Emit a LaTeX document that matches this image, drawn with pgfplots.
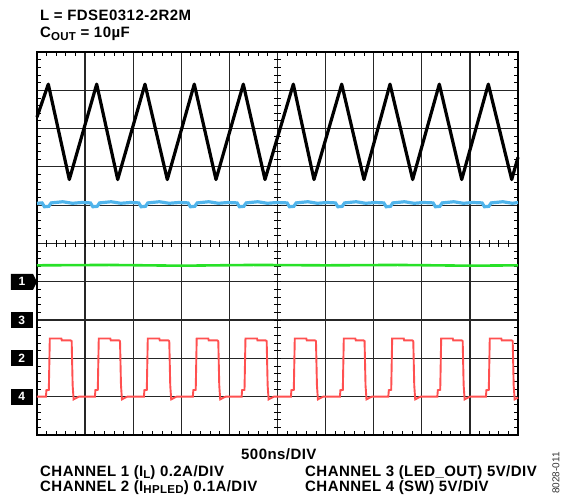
\documentclass[border=0pt]{standalone}
\usepackage{fontspec}
\setmainfont{Liberation Sans}
\newfontfamily\lsfont[LetterSpace=3]{Liberation Sans}
\usepackage{pgfplots}
\pgfplotsset{compat=1.18}

\definecolor{trblue}{RGB}{80,180,235}
\definecolor{trgreen}{RGB}{40,225,40}
\definecolor{trred}{RGB}{255,80,80}

\newcommand{\bigtxt}{\lsfont\bfseries\fontsize{15bp}{17bp}\selectfont}
\newcommand{\sub}[1]{\raisebox{-0.35ex}{\fontsize{11.5bp}{12bp}\selectfont #1}}
\tikzset{chbox/.style={fill=black, text=white, font=\bfseries\fontsize{12bp}{12bp}\selectfont,
        minimum width=22bp, minimum height=16bp, inner sep=0pt, anchor=east, xshift=-4bp}}

\begin{document}
\begin{tikzpicture}
\useasboundingbox (-37bp,-62bp) rectangle (528bp,435bp);
\begin{axis}[
    scale only axis,
    width=481bp, height=383bp,
    xmin=0, xmax=10, ymin=0, ymax=10,
    xtick={0,...,10}, ytick={0,...,10},
    xticklabels={}, yticklabels={},
    minor x tick num=4, minor y tick num=4,
    tick pos=both, tick align=inside,
    major tick length=0pt, minor tick length=4bp,
    minor tick style={black, line width=0.9bp},
    grid=major,
    major grid style={black!85, line width=1.2bp},
    axis line style={line width=2bp},
    clip=false,
]
% center graticule ticks
\pgfplotsinvokeforeach{0.2,0.4,...,9.81}{
  \draw[line width=0.9bp] (axis cs:#1,5) ++(0,-3.5bp) -- ++(0,7bp);
  \draw[line width=0.9bp] (axis cs:5,#1) ++(-3.5bp,0) -- ++(7bp,0);
}

% channel 1: inductor current
\addplot[black, line width=3.2bp, line join=round] coordinates {
(0,8.3) (0.235,9.16) (0.672,6.67) (1.241,9.16) (1.678,6.67) (2.245,9.16)
(2.709,6.67) (3.27,9.16) (3.721,6.67) (4.289,9.16) (4.74,6.67) (5.329,9.16)
(5.759,6.67) (6.335,9.16) (6.798,6.67) (7.339,9.16) (7.81,6.67) (8.364,9.16)
(8.83,6.67) (9.383,9.16) (9.869,6.67) (10,7.25)
};

% channel 2: LED current
\addplot[trblue, line width=3.2bp] coordinates {
(0,6.05)
(0.105,6.06) (0.155,5.96) (0.245,5.97) (0.295,6.06) (0.535,6.09) (0.735,6.05) (0.935,6.07)
(1.111,6.06) (1.161,5.96) (1.251,5.97) (1.301,6.06) (1.541,6.09) (1.741,6.05) (1.941,6.07)
(2.115,6.06) (2.165,5.96) (2.255,5.97) (2.305,6.06) (2.545,6.09) (2.745,6.05) (2.945,6.07)
(3.14,6.06) (3.19,5.96) (3.28,5.97) (3.33,6.06) (3.57,6.09) (3.77,6.05) (3.97,6.07)
(4.159,6.06) (4.209,5.96) (4.299,5.97) (4.349,6.06) (4.589,6.09) (4.789,6.05) (4.989,6.07)
(5.199,6.06) (5.249,5.96) (5.339,5.97) (5.389,6.06) (5.629,6.09) (5.829,6.05) (6.029,6.07)
(6.205,6.06) (6.255,5.96) (6.345,5.97) (6.395,6.06) (6.635,6.09) (6.835,6.05) (7.035,6.07)
(7.209,6.06) (7.259,5.96) (7.349,5.97) (7.399,6.06) (7.639,6.09) (7.839,6.05) (8.039,6.07)
(8.234,6.06) (8.284,5.96) (8.374,5.97) (8.424,6.06) (8.664,6.09) (8.864,6.05) (9.064,6.07)
(9.253,6.06) (9.303,5.96) (9.393,5.97) (9.443,6.06) (9.683,6.09) (9.883,6.05) (10,6.07)
};

% channel 3: LED_OUT
\addplot[trgreen, line width=2.6bp] coordinates {
(0,4.43) (1.5,4.44) (3,4.42) (4.5,4.44) (6,4.43) (7.5,4.44) (9,4.42) (10,4.43)
};

% channel 4: SW
\addplot[trred, line width=1.9bp] coordinates {
(0,1.0) (0.186,1.0) (0.196,1.17) (0.246,1.18) (0.266,2.52) (0.506,2.52) (0.516,2.47) (0.701,2.47) (0.721,2.45) (0.741,1.3) (0.761,0.93) (0.821,0.97) (0.871,1.0)
(1.204,1.0) (1.214,1.17) (1.264,1.18) (1.284,2.52) (1.524,2.52) (1.534,2.47) (1.706,2.47) (1.726,2.45) (1.746,1.3) (1.766,0.93) (1.826,0.97) (1.876,1.0)
(2.223,1.0) (2.233,1.17) (2.283,1.18) (2.303,2.52) (2.543,2.52) (2.553,2.47) (2.73,2.47) (2.75,2.45) (2.77,1.3) (2.79,0.93) (2.85,0.97) (2.9,1.0)
(3.24,1.0) (3.25,1.17) (3.30,1.18) (3.32,2.52) (3.56,2.52) (3.57,2.47) (3.749,2.47) (3.769,2.45) (3.789,1.3) (3.809,0.93) (3.869,0.97) (3.919,1.0)
(4.254,1.0) (4.264,1.17) (4.314,1.18) (4.334,2.52) (4.574,2.52) (4.584,2.47) (4.755,2.47) (4.775,2.45) (4.795,1.3) (4.815,0.93) (4.875,0.97) (4.925,1.0)
(5.279,1.0) (5.289,1.17) (5.339,1.18) (5.359,2.52) (5.599,2.52) (5.609,2.47) (5.78,2.47) (5.8,2.45) (5.82,1.3) (5.84,0.93) (5.9,0.97) (5.95,1.0)
(6.298,1.0) (6.308,1.17) (6.358,1.18) (6.378,2.52) (6.618,2.52) (6.628,2.47) (6.79,2.47) (6.81,2.45) (6.83,1.3) (6.85,0.93) (6.91,0.97) (6.96,1.0)
(7.304,1.0) (7.314,1.17) (7.364,1.18) (7.384,2.52) (7.624,2.52) (7.634,2.47) (7.803,2.47) (7.823,2.45) (7.843,1.3) (7.863,0.93) (7.923,0.97) (7.973,1.0)
(8.323,1.0) (8.333,1.17) (8.383,1.18) (8.403,2.52) (8.643,2.52) (8.653,2.47) (8.83,2.47) (8.85,2.45) (8.87,1.3) (8.89,0.93) (8.95,0.97) (9.0,1.0)
(9.333,1.0) (9.343,1.17) (9.393,1.18) (9.413,2.52) (9.653,2.52) (9.663,2.47) (9.87,2.47) (9.89,2.45) (9.91,1.3) (9.93,0.93) (9.99,0.97) (10,0.98)
};

% channel markers
\fill[black] (axis cs:0,4) -- ++(-4bp,8bp) -- ++(-22bp,0) -- ++(0,-16bp) -- ++(22bp,0) -- cycle;
\node[text=white, font=\bfseries\fontsize{12bp}{12bp}\selectfont, xshift=-15bp] at (axis cs:0,4) {1};
\node[chbox] at (axis cs:0,3) {3};
\node[chbox] at (axis cs:0,2) {2};
\node[chbox] at (axis cs:0,1) {4};
\end{axis}

\node[anchor=base west, font=\bigtxt, inner sep=0pt] at (3bp,414bp) {L = FDSE0312-2R2M};
\node[anchor=base west, font=\bigtxt, inner sep=0pt] at (3bp,397bp) {C\sub{OUT} = 10µF};
\node[anchor=base west, font=\bigtxt, inner sep=0pt] at (204bp,-24bp) {500ns/DIV};
\node[anchor=base west, font=\bigtxt, inner sep=0pt] at (3bp,-41bp) {CHANNEL 1 (I\sub{L}) 0.2A/DIV};
\node[anchor=base west, font=\bigtxt, inner sep=0pt] at (3bp,-56bp) {CHANNEL 2 (I\sub{HPLED}) 0.1A/DIV};
\node[anchor=base west, font=\bigtxt, inner sep=0pt] at (268bp,-41bp) {CHANNEL 3 (LED\_OUT) 5V/DIV};
\node[anchor=base west, font=\bigtxt, inner sep=0pt] at (268bp,-56bp) {CHANNEL 4 (SW) 5V/DIV};
\node[rotate=90, font=\fontsize{10bp}{11bp}\selectfont, text=black!80, inner sep=0pt] at (519bp,-38bp) {8028-011};
\end{tikzpicture}
\end{document}
